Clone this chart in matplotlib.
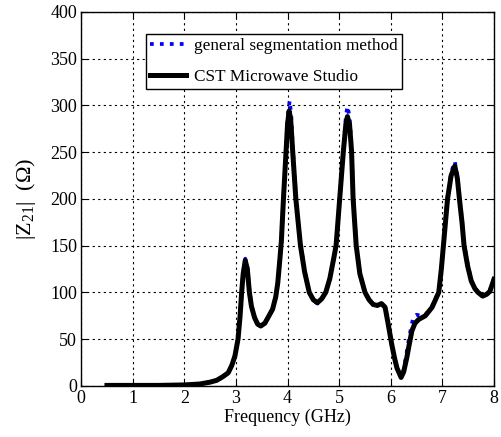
import matplotlib
matplotlib.use("Agg")
import matplotlib.pyplot as plt

plt.rcParams['font.family'] = ['Liberation Serif', 'DejaVu Serif']
plt.rcParams['mathtext.fontset'] = 'custom'
plt.rcParams['mathtext.rm'] = 'Liberation Serif'
plt.rcParams['mathtext.it'] = 'Liberation Serif:italic'

# CST Microwave Studio (black)
freq_cst = [0.5, 1.0, 1.5, 2.0, 2.3, 2.5, 2.63, 2.75, 2.85, 2.92, 2.98, 3.04, 3.08,
            3.11, 3.14, 3.18, 3.22, 3.26, 3.3, 3.36, 3.42, 3.48, 3.56, 3.64, 3.71,
            3.77, 3.81, 3.85, 3.88, 3.92, 3.97, 4.0, 4.03, 4.06, 4.1, 4.16, 4.25,
            4.33, 4.42, 4.5, 4.58, 4.66, 4.74, 4.82, 4.9, 4.94, 5.01, 5.08, 5.13,
            5.16, 5.2, 5.24, 5.27, 5.33, 5.4, 5.5, 5.58, 5.66, 5.74, 5.82, 5.89,
            5.95, 6.02, 6.08, 6.12, 6.2, 6.25, 6.31, 6.36, 6.41, 6.47, 6.54, 6.67,
            6.8, 6.93, 6.98, 7.02, 7.06, 7.1, 7.17, 7.24, 7.29, 7.33, 7.38, 7.42,
            7.49, 7.56, 7.63, 7.69, 7.78, 7.86, 7.92, 8.0]
z_cst = [0.5, 0.5, 0.5, 1, 2, 4, 6, 10, 14, 22, 32, 50, 75,
         100, 120, 134, 125, 100, 85, 73, 66, 64, 67, 75, 82,
         95, 110, 135, 155, 200, 250, 280, 294, 285, 250, 200, 150,
         122, 100, 92, 89, 93, 100, 115, 138, 150, 200, 250, 280,
         288, 280, 251, 200, 150, 120, 100, 92, 87, 86, 88, 84,
         66, 44, 28, 19, 9, 15, 30, 45, 59, 67, 71, 75,
         84, 100, 125, 150, 175, 200, 225, 235, 222, 200, 175, 150,
         128, 112, 104, 100, 96, 98, 101, 114]

# general segmentation method (blue dotted)
freq_gsm = [0.5, 1.0, 1.5, 2.0, 2.3, 2.5, 2.63, 2.75, 2.85, 2.92, 2.98, 3.04, 3.08,
            3.11, 3.14, 3.18, 3.22, 3.26, 3.3, 3.36, 3.42, 3.48, 3.56, 3.64, 3.71,
            3.77, 3.81, 3.85, 3.88, 3.92, 3.97, 4.0, 4.04, 4.07, 4.1, 4.16, 4.25,
            4.33, 4.42, 4.5, 4.58, 4.66, 4.74, 4.82, 4.9, 4.94, 5.01, 5.08, 5.13,
            5.16, 5.2, 5.24, 5.27, 5.33, 5.4, 5.5, 5.58, 5.66, 5.74, 5.82, 5.89,
            5.95, 6.02, 6.08, 6.12, 6.2, 6.25, 6.3, 6.35, 6.4, 6.44, 6.5, 6.58,
            6.67, 6.8, 6.93, 6.98, 7.02, 7.06, 7.1, 7.17, 7.24, 7.29, 7.33, 7.38,
            7.42, 7.49, 7.56, 7.63, 7.69, 7.78, 7.86, 7.92, 8.0]
z_gsm = [0.5, 0.5, 0.5, 1, 2, 4, 6, 10, 14, 22, 32, 50, 75,
         100, 121, 136, 127, 102, 86, 74, 66, 64, 67, 75, 82,
         95, 110, 135, 155, 200, 252, 285, 305, 290, 255, 203, 152,
         123, 101, 91, 88, 92, 100, 115, 138, 150, 200, 252, 288,
         299, 288, 255, 203, 152, 121, 100, 92, 87, 86, 88, 84,
         66, 44, 28, 19, 10, 17, 33, 50, 64, 74, 76, 75,
         76, 85, 101, 126, 152, 177, 202, 228, 240, 225, 202, 177,
         152, 130, 113, 105, 100, 96, 98, 102, 115]

fig = plt.figure(figsize=(5.01, 4.37), dpi=100)
ax = fig.add_axes([0.162, 0.117, 0.824, 0.856])

ax.plot(freq_gsm, z_gsm, color='blue', linestyle=':', linewidth=2.7,
        label='general segmentation method', zorder=2)
ax.plot(freq_cst, z_cst, color='black', linestyle='-', linewidth=3.6,
        label='CST Microwave Studio', zorder=3)

ax.set_xlim(0, 8)
ax.set_ylim(0, 400)
ax.set_xticks(range(0, 9))
ax.set_yticks(range(0, 401, 50))
ax.grid(True, color='black', linestyle=(0, (2, 3)), linewidth=0.8)
ax.tick_params(direction='in', labelsize=13, top=True, right=True, length=4,
               pad=3)
for s in ax.spines.values():
    s.set_linewidth(1.0)

ax.set_xlabel('Frequency (GHz)', fontsize=13, labelpad=1)
ax.set_ylabel(r'$|$Z$_{21}|$  ($\Omega$)', fontsize=16)
ax.yaxis.set_label_coords(-0.105, 0.5)

leg = ax.legend(loc='upper left', bbox_to_anchor=(0.157, 0.941), fontsize=12.4,
                fancybox=False, framealpha=1, edgecolor='black',
                handlelength=2.1, borderpad=0.25, labelspacing=0.84,
                handletextpad=0.45, borderaxespad=0)
leg.get_frame().set_linewidth(1.0)

fig.savefig('out.png', dpi=100)
